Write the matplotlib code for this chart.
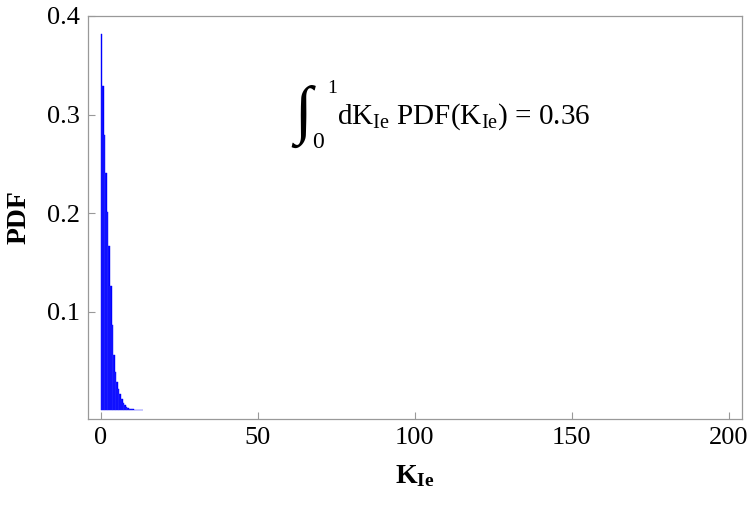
import matplotlib
matplotlib.use("Agg")
import matplotlib.pyplot as plt
import numpy as np

plt.rcParams['font.family'] = ['Liberation Serif', 'DejaVu Serif']
plt.rcParams['mathtext.fontset'] = 'custom'
plt.rcParams['mathtext.rm'] = 'Liberation Serif'
plt.rcParams['mathtext.bf'] = 'Liberation Serif:bold'
plt.rcParams['mathtext.it'] = 'Liberation Serif:italic'

bin_width = 0.5
pdf_values = [0.382, 0.329, 0.279, 0.241, 0.201, 0.167, 0.126, 0.087, 0.056,
              0.039, 0.029, 0.022, 0.017, 0.012, 0.008, 0.0056, 0.0036, 0.0022,
              0.0015, 0.0012, 0.0010, 0.0008, 0.0006, 0.0005, 0.0004, 0.0003, 0.0002]
bin_edges = [i * bin_width for i in range(len(pdf_values))]
x_ticks = [0, 50, 100, 150, 200]
y_ticks = [0.1, 0.2, 0.3, 0.4]
y_tick_labels = ['0.1', '0.2', '0.3', '0.4']

W, H = 750, 505
fig = plt.figure(figsize=(W/100, H/100), dpi=100)
ax = fig.add_axes([88/W, 86/H, (742.3-88)/W, (419-16)/H])

ax.bar(bin_edges, pdf_values, width=bin_width, align='edge', color='#0000ff',
       edgecolor='#0000ff', linewidth=0.3)
# faint separators between bins
ax.vlines(bin_edges[1:], 0, pdf_values[1:], color='#5050ff', linewidth=0.3)

ax.set_xlim(-4.0, 204.3)
ax.set_ylim(-0.0087, 0.4)
ax.set_xticks(x_ticks)
ax.set_xticklabels([str(t) for t in x_ticks])
ax.set_yticks(y_ticks)
ax.set_yticklabels(y_tick_labels)

for s in ax.spines.values():
    s.set_color('#999999')
    s.set_linewidth(0.9)
ax.tick_params(direction='in', length=5, width=0.8, color='#999999',
               labelsize=19, pad=6)

ax.set_xlabel(r'$\mathbf{K}_{\mathbf{Ie}}$', fontsize=20, labelpad=10)
ax.set_ylabel('PDF', fontsize=20, fontweight='bold', labelpad=11)

def fx(px):
    return px / W

def fy(py):
    return 1 - py / H

fig.text(fx(303), fy(116), '\u222b', fontsize=46, ha='center', va='center')
fig.text(fx(327), fy(93), '1', fontsize=14, ha='left', va='baseline')
fig.text(fx(312), fy(148), '0', fontsize=17, ha='left', va='baseline')
fig.text(fx(337), fy(124), r'dK$_{\mathrm{Ie}}$ PDF(K$_{\mathrm{Ie}}$) = 0.36',
         fontsize=21, ha='left', va='baseline')

fig.savefig('out.png', dpi=100)
